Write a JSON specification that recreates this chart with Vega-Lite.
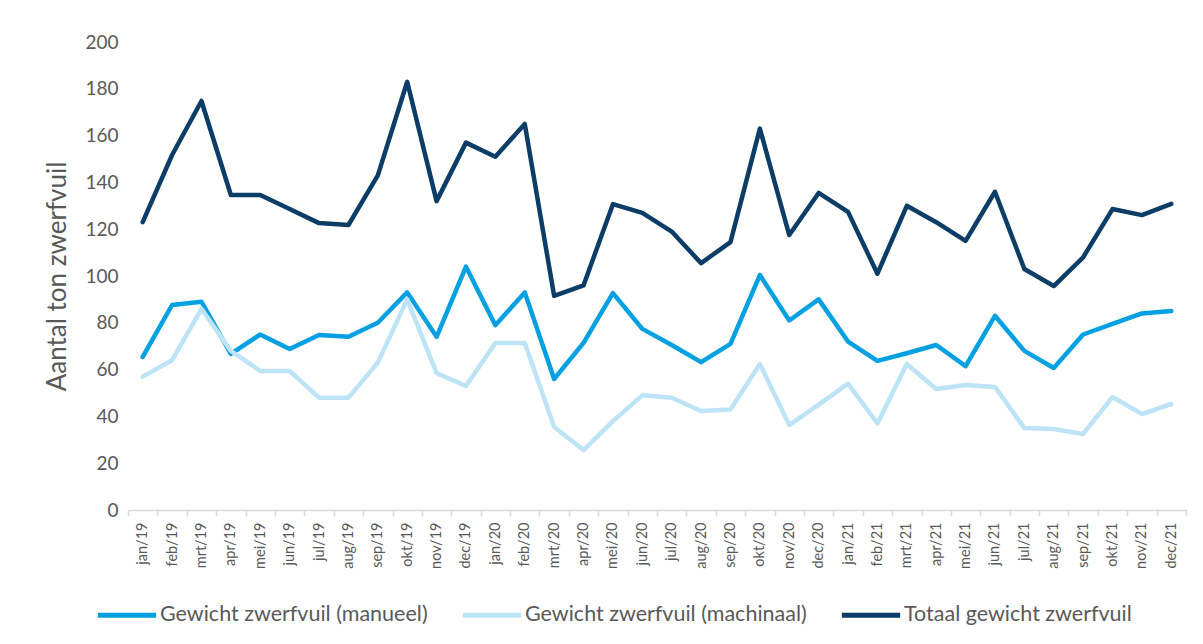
{
  "$schema": "https://vega.github.io/schema/vega-lite/v6.json",
  "width": 1058,
  "height": 468,
  "autosize": "none",
  "padding": {"left": 128, "top": 42, "right": 17, "bottom": 134},
  "background": "white",
  "config": {
    "view": {"stroke": null},
    "font": "Lato"
  },
  "datasets": {
    "d": [
      {"maand": "jan/19", "man": 65.4, "mach": 57, "tot": 123},
      {"maand": "feb/19", "man": 87.6, "mach": 64, "tot": 151.7},
      {"maand": "mrt/19", "man": 89, "mach": 86, "tot": 174.8},
      {"maand": "apr/19", "man": 66.7, "mach": 68, "tot": 134.6},
      {"maand": "mei/19", "man": 75, "mach": 59.4, "tot": 134.6},
      {"maand": "jun/19", "man": 68.8, "mach": 59.4, "tot": 128.6},
      {"maand": "jul/19", "man": 74.8, "mach": 48, "tot": 122.6},
      {"maand": "aug/19", "man": 74, "mach": 48, "tot": 121.8},
      {"maand": "sep/19", "man": 80, "mach": 63, "tot": 143},
      {"maand": "okt/19", "man": 93, "mach": 90, "tot": 183},
      {"maand": "nov/19", "man": 74, "mach": 58.5, "tot": 132},
      {"maand": "dec/19", "man": 104, "mach": 53, "tot": 157},
      {"maand": "jan/20", "man": 79, "mach": 71.4, "tot": 151},
      {"maand": "feb/20", "man": 93, "mach": 71.4, "tot": 165},
      {"maand": "mrt/20", "man": 56, "mach": 35.5, "tot": 91.5},
      {"maand": "apr/20", "man": 71.4, "mach": 25.6, "tot": 96},
      {"maand": "mei/20", "man": 92.7, "mach": 38, "tot": 130.7},
      {"maand": "jun/20", "man": 77.4, "mach": 49, "tot": 127},
      {"maand": "jul/20", "man": 70.5, "mach": 48, "tot": 119},
      {"maand": "aug/20", "man": 63.2, "mach": 42.3, "tot": 105.5},
      {"maand": "sep/20", "man": 71, "mach": 43, "tot": 114.5},
      {"maand": "okt/20", "man": 100.4, "mach": 62.4, "tot": 163},
      {"maand": "nov/20", "man": 81, "mach": 36.3, "tot": 117.5},
      {"maand": "dec/20", "man": 90, "mach": 45, "tot": 135.5},
      {"maand": "jan/21", "man": 72, "mach": 54, "tot": 127.4},
      {"maand": "feb/21", "man": 63.7, "mach": 37, "tot": 101},
      {"maand": "mrt/21", "man": 67, "mach": 62.4, "tot": 130},
      {"maand": "apr/21", "man": 70.5, "mach": 51.7, "tot": 123},
      {"maand": "mei/21", "man": 61.5, "mach": 53.4, "tot": 115},
      {"maand": "jun/21", "man": 83, "mach": 52.6, "tot": 136},
      {"maand": "jul/21", "man": 68, "mach": 35, "tot": 103},
      {"maand": "aug/21", "man": 60.7, "mach": 34.6, "tot": 95.7},
      {"maand": "sep/21", "man": 75, "mach": 32.5, "tot": 108},
      {"maand": "okt/21", "man": 79.5, "mach": 48.3, "tot": 128.6},
      {"maand": "nov/21", "man": 84, "mach": 41, "tot": 126},
      {"maand": "dec/21", "man": 85, "mach": 45.3, "tot": 130.8}
    ]
  },
  "data": {"name": "d"},
  "transform": [
    {"fold": ["man", "mach", "tot"], "as": ["key", "waarde"]},
    {"lookup": "key", "from": {"data": {"values": [
      {"key": "man", "reeks": "Gewicht zwerfvuil (manueel)", "ord": 1},
      {"key": "mach", "reeks": "Gewicht zwerfvuil (machinaal)", "ord": 2},
      {"key": "tot", "reeks": "Totaal gewicht zwerfvuil", "ord": 3}
    ]}, "key": "key", "fields": ["reeks", "ord"]}}
  ],
  "mark": {"type": "line", "strokeWidth": 4.5, "strokeCap": "round", "strokeJoin": "round"},
  "encoding": {
    "x": {
      "field": "maand", "type": "nominal", "sort": null, "bandPosition": 0.5,
      "scale": {"type": "band", "paddingInner": 0, "paddingOuter": 0},
      "axis": {
        "title": null, "labelAngle": -90, "labelFontSize": 14.5, "labelColor": "#595959",
        "domainColor": "#d9d9d9", "domainWidth": 1.5, "tickColor": "#d9d9d9", "tickWidth": 1.5,
        "tickSize": 6, "tickBand": "extent", "labelPadding": 6, "grid": false
      }
    },
    "y": {
      "field": "waarde", "type": "quantitative",
      "scale": {"domain": [0, 200]},
      "axis": {
        "title": "Aantal ton zwerfvuil", "titleFontSize": 26, "titleFontWeight": "normal",
        "titleColor": "#595959", "titlePadding": 14,
        "values": [0, 20, 40, 60, 80, 100, 120, 140, 160, 180, 200],
        "labelFontSize": 19, "labelColor": "#595959", "labelPadding": 10,
        "domain": false, "ticks": false, "grid": false
      }
    },
    "color": {
      "field": "reeks", "type": "nominal",
      "sort": ["Gewicht zwerfvuil (manueel)", "Gewicht zwerfvuil (machinaal)", "Totaal gewicht zwerfvuil"],
      "scale": {
        "domain": ["Gewicht zwerfvuil (manueel)", "Gewicht zwerfvuil (machinaal)", "Totaal gewicht zwerfvuil"],
        "range": ["#00a0e3", "#bde3f7", "#0b3d66"]
      },
      "legend": {
        "title": null, "orient": "none", "direction": "horizontal",
        "legendX": -33, "legendY": 541,
        "symbolType": "stroke", "symbolSize": 3400, "symbolStrokeWidth": 5,
        "labelFontSize": 21.5, "labelColor": "#595959", "labelOffset": 1,
        "columnPadding": 24, "labelLimit": 400
      }
    },
    "order": {"field": "ord"}
  }
}
